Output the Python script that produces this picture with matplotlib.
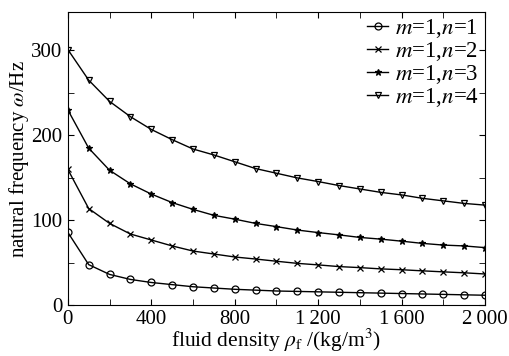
import matplotlib
matplotlib.use("Agg")
from matplotlib import pyplot as plt
from matplotlib.ticker import MultipleLocator, FuncFormatter

matplotlib.rcParams.update({
    'font.family': ['Liberation Serif', 'DejaVu Serif'],
    'mathtext.fontset': 'stix',
    'font.size': 15,
})

# fluid density (kg/m^3)
rho = [0, 100, 200, 300, 400, 500, 600, 700, 800, 900, 1000,
       1100, 1200, 1300, 1400, 1500, 1600, 1700, 1800, 1900, 2000]

# natural frequency (Hz), m=1
freq_n1 = [86, 48, 36.5, 30.6, 27, 24.5, 22, 20.5, 19, 18, 17,
           16.5, 16, 15.5, 15, 14.5, 14, 13.5, 13, 12.5, 12]
freq_n2 = [160, 114, 96.5, 84, 77, 70, 64, 60.5, 57, 54.6, 52,
           49.5, 47.7, 45.7, 44.5, 43, 42, 40.7, 39.5, 38.4, 37]
freq_n3 = [230, 185, 159, 143, 131, 121, 113, 106, 101.5, 96.5, 92.7,
           88.7, 85.7, 83, 80, 78, 75.6, 73, 71, 70, 68]
freq_n4 = [301, 265, 240, 222, 207, 195, 184, 177, 169, 161, 155.5,
           150, 145.7, 141, 137, 133, 130, 126, 123, 120, 118]

labels = ['$m$=1,$n$=1', '$m$=1,$n$=2', '$m$=1,$n$=3', '$m$=1,$n$=4']
series = [freq_n1, freq_n2, freq_n3, freq_n4]
markers = ['o', 'x', '*', 'v']


def thousands(v, pos):
    v = int(round(v))
    if v >= 1000:
        return '{}\u2009{:03d}'.format(v // 1000, v % 1000)
    return str(v)


fig = plt.figure(figsize=(5.1, 3.56), dpi=100)
ax = fig.add_axes([0.133, 0.142, 0.818, 0.824])

for y, lab, mk in zip(series, labels, markers):
    ax.plot(rho, y, color='black', linewidth=1.0, marker=mk, markersize=5,
            markerfacecolor='none' if mk in ('o', 'v') else 'black',
            markeredgewidth=0.9, label=lab)

ax.set_xlim(0, 2000)
ax.set_ylim(0, 345)
ax.xaxis.set_major_locator(MultipleLocator(400))
ax.xaxis.set_minor_locator(MultipleLocator(200))
ax.yaxis.set_major_locator(MultipleLocator(100))
ax.yaxis.set_minor_locator(MultipleLocator(50))
ax.xaxis.set_major_formatter(FuncFormatter(thousands))
ax.tick_params(which='both', direction='in', top=True, right=True, labelsize=15)
ax.tick_params(which='major', length=4)
ax.tick_params(which='minor', length=4)
ax.tick_params(axis='x', which='major', pad=3)
ax.tick_params(axis='y', which='major', pad=4)

ax.set_xlabel('fluid density $\\rho_\\mathrm{f}$ /(kg/m$^3$)', fontsize=15.5, labelpad=-1)
ax.set_ylabel('natural frequency $\\omega$/Hz', fontsize=15, labelpad=0)

ax.legend(loc='upper right', bbox_to_anchor=(0.985, 0.983), frameon=False,
          handlelength=0.9, handletextpad=0.3, labelspacing=0.0,
          borderaxespad=0.0, borderpad=0.0, fontsize=16.5)

fig.savefig('out.png', dpi=100)
